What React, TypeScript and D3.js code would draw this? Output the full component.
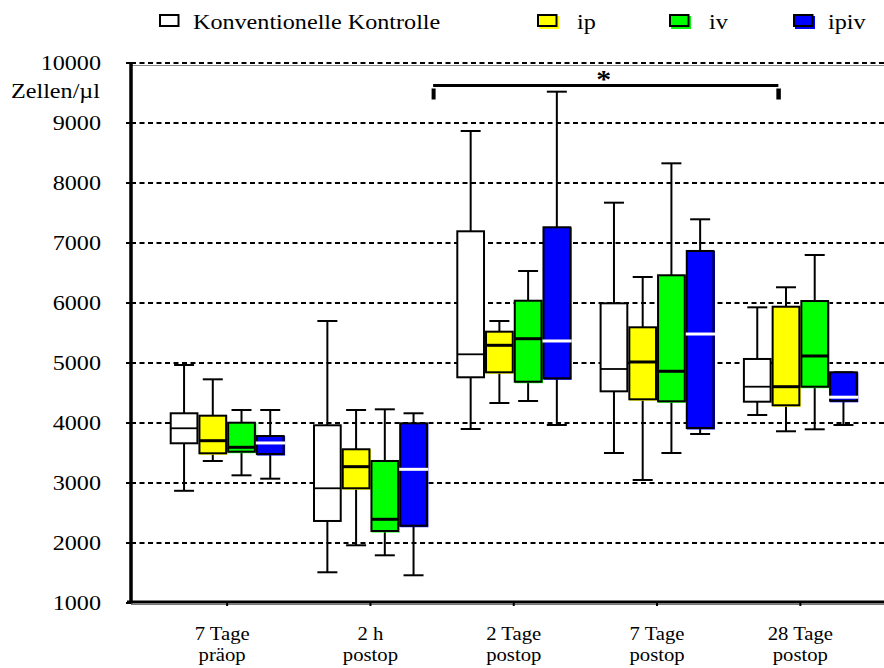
import React from "react";
import * as d3 from "d3";

const categories = [
  ["7 Tage", "präop"],
  ["2 h", "postop"],
  ["2 Tage", "postop"],
  ["7 Tage", "postop"],
  ["28 Tage", "postop"],
];
const seriesNames = ["Konventionelle Kontrolle", "ip", "iv", "ipiv"];
const seriesColors = ["#ffffff", "#ffff00", "#00ff00", "#0000ff"];
const medianColors = ["#000000", "#000000", "#000000", "#ffffff"];

// [min, q1, median, q3, max]
const kontrolle = [
  [2870, 3662, 3912, 4162, 4967],
  [1512, 2367, 2912, 3962, 5700],
  [3900, 4762, 5145, 7195, 8867],
  [3500, 4528, 4900, 5995, 7672],
  [4133, 4355, 4605, 5067, 5928],
];
const ip = [
  [3367, 3495, 3705, 4122, 4728],
  [1962, 2912, 3272, 3562, 4217],
  [4333, 4845, 5295, 5522, 5700],
  [3050, 4395, 5017, 5595, 6433],
  [3862, 4295, 4605, 5938, 6262],
];
const iv = [
  [3128, 3522, 3595, 4005, 4217],
  [1795, 2200, 2395, 3367, 4228],
  [4367, 4688, 5405, 6038, 6533],
  [3500, 4362, 4862, 6462, 8328],
  [3895, 4605, 5117, 6033, 6800],
];
const ipiv = [
  [3072, 3483, 3667, 3783, 4217],
  [1462, 2288, 3228, 3995, 4162],
  [3967, 4745, 5367, 7262, 9522],
  [3817, 3917, 5483, 6867, 7395],
  [3967, 4370, 4430, 4845, 4845],
];
const allSeries = [kontrolle, ip, iv, ipiv];
const yTicks = [1000, 2000, 3000, 4000, 5000, 6000, 7000, 8000, 9000, 10000];
const yUnit = "Zellen/µl";
const sigLevel = 9625;

const W = 884;
const H = 668;
const FONT = "Liberation Serif";
const SX = 1.15;

function SText({ x, y, size, anchor = "start", children, weight = "normal" }: any) {
  return (
    <g transform={`translate(${x},${y}) scale(${SX},1)`}>
      <text
        x={0}
        y={0}
        textAnchor={anchor}
        fill="#000"
        style={{ fontFamily: FONT, fontSize: `${size}px`, fontWeight: weight }}
      >
        {children}
      </text>
    </g>
  );
}

export default function App() {
  const y = d3.scaleLinear().domain([1000, 10000]).range([603, 63]);
  const keys = categories.map((c) => c.join(" "));
  const x = d3.scaleBand().domain(keys).range([155.5, 872]).padding(0);
  const inner = d3
    .scaleBand()
    .domain(seriesNames)
    .range([14.2, x.bandwidth() - 14.2])
    .paddingInner(0.07)
    .paddingOuter(0.035);
  const axisLeft = 131;
  const axisBottom = 602;
  const bw = inner.bandwidth();
  const capW = 20;

  const groupCenter = (i: number) => (x(keys[i]) as number) + x.bandwidth() / 2;

  return (
    <svg
      width={W}
      height={H}
      style={{ position: "fixed", left: 0, top: 0, background: "#fff" }}
      xmlns="http://www.w3.org/2000/svg"
    >
      <rect x={0} y={0} width={W} height={H} fill="#fff" />
      {/* Legend */}
      {seriesNames.map((name, i) => {
        const lx = [160, 538, 670, 794][i];
        const tx = [193, 577, 709, 828][i];
        return (
          <g key={name}>
            {i > 0 && <rect x={lx + 1} y={16} width={20} height={13} fill={seriesColors[i]} />}
            <rect x={lx} y={15} width={18.5} height={11} fill={i === 0 ? "#fff" : "none"} stroke="#000" strokeWidth={2} />
            <SText x={tx} y={29} size={21}>
              {name}
            </SText>
          </g>
        );
      })}

      {/* gridlines */}
      {yTicks.slice(1).map((t) => (
        <line
          key={t}
          x1={axisLeft}
          x2={W}
          y1={y(t)}
          y2={y(t)}
          stroke="#000"
          strokeWidth={1.8}
          strokeDasharray="5,3.5"
        />
      ))}
      <line x1={axisLeft} x2={W} y1={y(10000) + 2.5} y2={y(10000) + 2.5} stroke="#888" strokeWidth={1} />

      {/* boxes */}
      {categories.map((_, gi) =>
        allSeries.map((series, si) => {
          const [mn, q1, med, q3, mx] = series[gi];
          const bx = (x(keys[gi]) as number) + (inner(seriesNames[si]) as number);
          const cx = bx + bw / 2;
          const colored = si > 0;
          return (
            <g key={`${gi}-${si}`}>
              <line x1={cx} x2={cx} y1={y(mx)} y2={y(q3)} stroke="#000" strokeWidth={2} />
              <line x1={cx} x2={cx} y1={y(q1)} y2={y(mn)} stroke="#000" strokeWidth={2} />
              <line x1={cx - capW / 2} x2={cx + capW / 2} y1={y(mx)} y2={y(mx)} stroke="#000" strokeWidth={2} />
              <line x1={cx - capW / 2} x2={cx + capW / 2} y1={y(mn)} y2={y(mn)} stroke="#000" strokeWidth={2} />
              {colored && (
                <rect x={bx} y={y(q3)} width={bw + 1.5} height={y(q1) - y(q3) + 1.5} fill={seriesColors[si]} />
              )}
              <rect
                x={bx}
                y={y(q3)}
                width={bw}
                height={y(q1) - y(q3)}
                fill={colored ? seriesColors[si] : "#fff"}
                stroke="#000"
                strokeWidth={2}
              />
              <line
                x1={bx + (si === 3 ? -1 : 0)}
                x2={bx + bw + (si === 3 ? 1.5 : 0)}
                y1={y(med)}
                y2={y(med)}
                stroke={medianColors[si]}
                strokeWidth={si === 0 ? 1.8 : 3}
              />
            </g>
          );
        })
      )}

      {/* axes */}
      <line x1={axisLeft} x2={axisLeft} y1={y(10000) - 1} y2={axisBottom + 1.5} stroke="#000" strokeWidth={3.5} />
      <line x1={axisLeft - 4} x2={W} y1={axisBottom} y2={axisBottom} stroke="#000" strokeWidth={3} />
      <line x1={axisLeft} x2={W} y1={axisBottom + 2.5} y2={axisBottom + 2.5} stroke="#777" strokeWidth={1} />
      {yTicks.map((t) => (
        <g key={t}>
          <line x1={axisLeft - 5} x2={axisLeft} y1={y(t)} y2={y(t)} stroke="#000" strokeWidth={2} />
          <SText x={101} y={y(t) + 7} size={21} anchor="end">
            {t}
          </SText>
        </g>
      ))}
      <SText x={11} y={y(10000) + 35} size={21}>
        {yUnit}
      </SText>
      {categories.map((c, i) => (
        <g key={i}>
          <line x1={groupCenter(i)} x2={groupCenter(i)} y1={axisBottom} y2={axisBottom + 4} stroke="#000" strokeWidth={2} />
          <SText x={groupCenter(i) - (i === 0 ? 5 : 0)} y={640} size={18} anchor="middle">
            {c[0]}
          </SText>
          <SText x={groupCenter(i) - (i === 0 ? 5 : 0)} y={661} size={18} anchor="middle">
            {c[1]}
          </SText>
        </g>
      ))}

      {/* significance bracket */}
      {(() => {
        const xl = (x(keys[2]) as number) - 9;
        const xr = groupCenter(4) - 24;
        const yy = y(sigLevel);
        return (
          <g>
            <line x1={xl} x2={xr + 2} y1={yy} y2={yy} stroke="#000" strokeWidth={3} />
            <rect x={xl - 1.5} y={yy + 3} width={4} height={11} fill="#000" />
            <rect x={xr} y={yy + 3} width={4.5} height={11} fill="#000" />
            <SText x={(xl + xr) / 2 - 1} y={yy + 2} size={26} anchor="middle" weight="bold">
              *
            </SText>
          </g>
        );
      })()}
    </svg>
  );
}
